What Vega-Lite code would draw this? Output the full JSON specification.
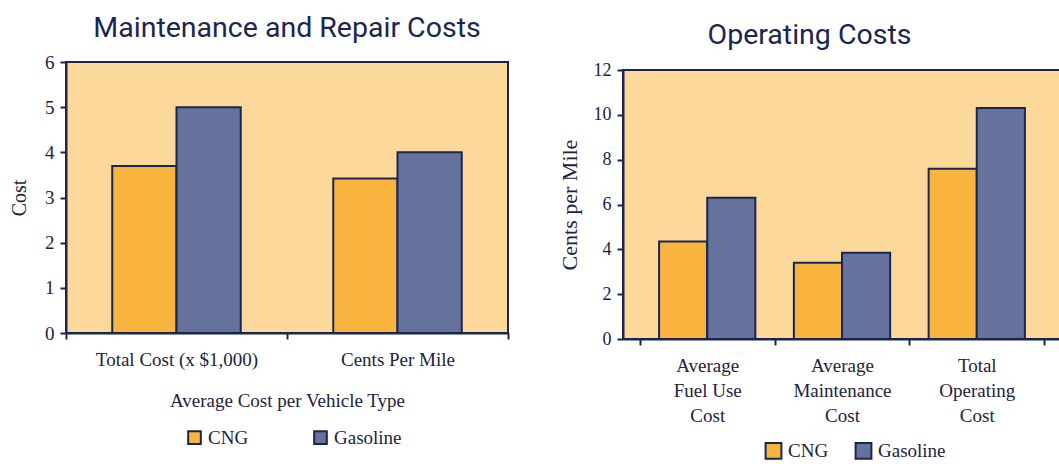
{
  "$schema": "https://vega.github.io/schema/vega-lite/v6.json",
  "padding": {"left": 8, "top": 12, "right": 0, "bottom": 0},
  "background": "white",
  "columns": 2,
  "spacing": 47,
  "config": {
    "view": {"fill": "#FDD89B", "stroke": "#1B2552", "strokeWidth": 2},
    "axis": {
      "domainColor": "#1B2552", "tickColor": "#1B2552", "domainWidth": 2, "tickWidth": 2, "tickSize": 6,
      "labelColor": "#1E2240", "titleColor": "#1E2240", "labelFont": "Liberation Serif", "titleFont": "Liberation Serif",
      "titleFontWeight": "normal", "grid": false
    },
    "title": {"font": "Roboto", "fontSize": 28.5, "fontWeight": "normal", "color": "#1B2552", "anchor": "middle"},
    "legend": {"labelFont": "Liberation Serif", "labelColor": "#1E2240"}
  },
  "concat": [
    {
      "title": {"text": "Maintenance and Repair Costs", "offset": 11},
      "width": 442,
      "height": 271,
      "data": {"values": [
        {"category": "Total Cost  (x $1,000)", "fuel": "CNG", "value": 3.7},
        {"category": "Total Cost  (x $1,000)", "fuel": "Gasoline", "value": 5.0},
        {"category": "Cents Per Mile", "fuel": "CNG", "value": 3.42},
        {"category": "Cents Per Mile", "fuel": "Gasoline", "value": 4.0}
      ]},
      "mark": {"type": "bar", "stroke": "#1B2552", "strokeWidth": 2},
      "encoding": {
        "x": {"field": "category", "type": "nominal", "sort": null,
          "scale": {"paddingInner": 0, "paddingOuter": 0},
          "axis": {"labelAngle": 0, "tickBand": "extent", "title": "Average Cost per Vehicle Type",
            "labelFontSize": 19, "titleFontSize": 19, "labelPadding": 11, "titlePadding": 22}},
        "xOffset": {"field": "fuel", "type": "nominal", "scale": {"paddingInner": 0, "paddingOuter": 0.72}},
        "y": {"field": "value", "type": "quantitative", "scale": {"domain": [0, 6], "nice": false},
          "axis": {"values": [0, 1, 2, 3, 4, 5, 6], "title": "Cost", "labelFontSize": 19, "titleFontSize": 20, "titlePadding": 15, "labelPadding": 6}},
        "color": {"field": "fuel", "type": "nominal",
          "scale": {"domain": ["CNG", "Gasoline"], "range": ["#F9B440", "#64729C"]},
          "legend": {"title": null, "orient": "none", "legendX": 119, "legendY": 366, "direction": "horizontal",
            "columnPadding": 61, "symbolType": "square", "symbolSize": 160, "symbolStrokeColor": "#1B2552",
            "symbolStrokeWidth": 2, "labelFontSize": 19, "labelOffset": 4}}
      }
    },
    {
      "title": {"text": "Operating Costs", "offset": 11},
      "spacing": -3,
      "vconcat": [
        {
          "width": 438,
          "height": 1,
          "data": {"values": []},
          "mark": "point",
          "view": {"stroke": null, "fill": null}
        },
        {
          "width": 438,
          "height": 269,
          "data": {"values": [
            {"category": "Average Fuel Use Cost", "fuel": "CNG", "value": 4.35},
            {"category": "Average Fuel Use Cost", "fuel": "Gasoline", "value": 6.3},
            {"category": "Average Maintenance Cost", "fuel": "CNG", "value": 3.4},
            {"category": "Average Maintenance Cost", "fuel": "Gasoline", "value": 3.85},
            {"category": "Total Operating Cost", "fuel": "CNG", "value": 7.6},
            {"category": "Total Operating Cost", "fuel": "Gasoline", "value": 10.3}
          ]},
          "mark": {"type": "bar", "stroke": "#1B2552", "strokeWidth": 2},
          "encoding": {
            "x": {"field": "category", "type": "nominal", "sort": null,
              "scale": {"paddingInner": 0, "paddingOuter": 0.125},
              "axis": {"labelAngle": 0, "tickBand": "extent", "title": null,
                "labelExpr": "datum.label == 'Average Fuel Use Cost' ? ['Average', 'Fuel Use', 'Cost'] : datum.label == 'Average Maintenance Cost' ? ['Average', 'Maintenance', 'Cost'] : datum.label == 'Total Operating Cost' ? ['Total', 'Operating', 'Cost'] : ''",
                "labelFontSize": 19, "labelLineHeight": 25, "labelPadding": 11}},
            "xOffset": {"field": "fuel", "type": "nominal", "scale": {"paddingInner": 0, "paddingOuter": 0.4}},
            "y": {"field": "value", "type": "quantitative", "scale": {"domain": [0, 12], "nice": false},
              "axis": {"values": [0, 2, 4, 6, 8, 10, 12], "title": "Cents per Mile", "labelFontSize": 18, "titleFontSize": 22, "titlePadding": 12, "labelPadding": 6}},
            "color": {"field": "fuel", "type": "nominal",
              "scale": {"domain": ["CNG", "Gasoline"], "range": ["#F9B440", "#64729C"]},
              "legend": {"title": null, "orient": "none", "legendX": 141, "legendY": 379, "direction": "horizontal",
                "columnPadding": 22, "symbolType": "square", "symbolSize": 250, "symbolStrokeColor": "#1B2552",
                "symbolStrokeWidth": 2, "labelFontSize": 19, "labelOffset": 5}}
          }
        }
      ]
    }
  ],
  "resolve": {"scale": {"color": "independent", "xOffset": "independent"}, "legend": {"color": "independent"}}
}
